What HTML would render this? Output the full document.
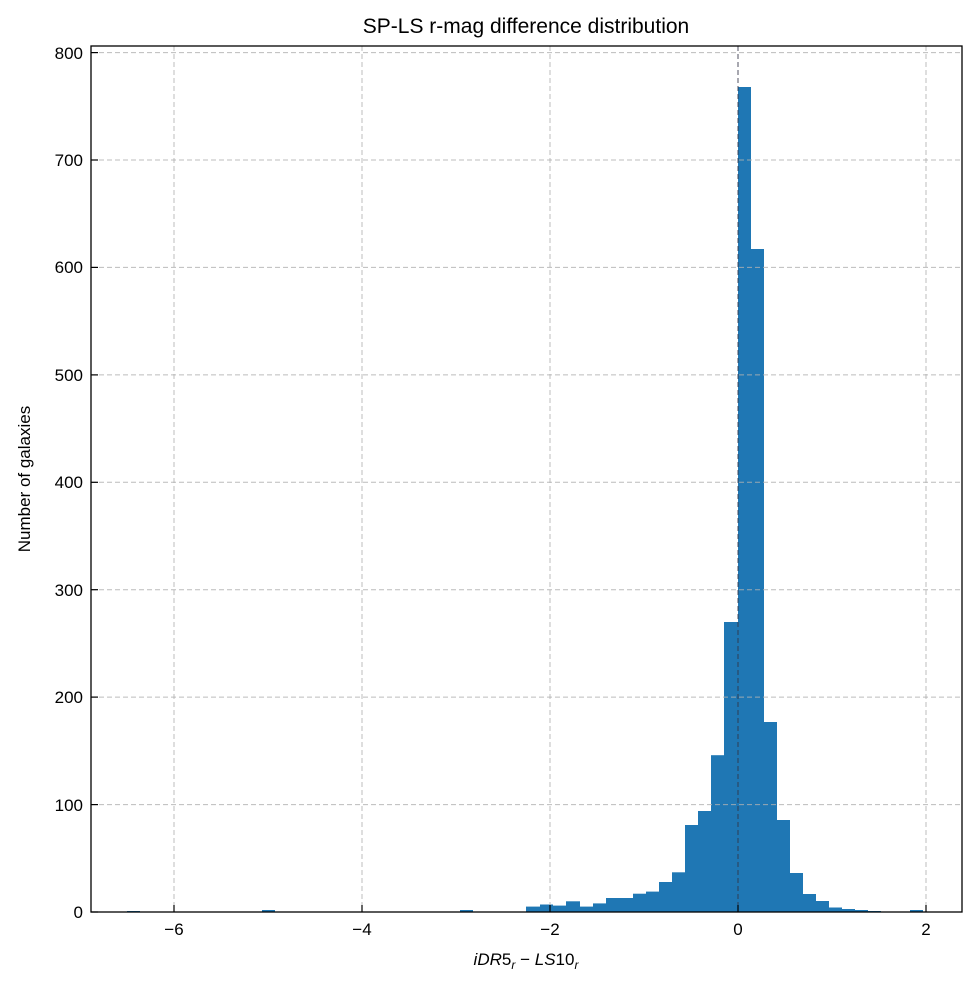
<!DOCTYPE html>
<html><head><style>body{margin:0;background:#fff}svg{display:block}text{font-family:"Liberation Sans","DejaVu Sans",sans-serif;fill:#000}</style></head>
<body>
<svg width="977" height="986" viewBox="0 0 977 986">
<text x="526" y="33" font-size="21" text-anchor="middle">SP-LS r-mag difference distribution</text>
<g fill="#1f77b4">
<rect x="127" y="911" width="13" height="1"/>
<rect x="262" y="910" width="13" height="2"/>
<rect x="460" y="910" width="13" height="2"/>
<rect x="526" y="906.6" width="14" height="5.4"/>
<rect x="540" y="904.5" width="13" height="7.5"/>
<rect x="553" y="905.6" width="13" height="6.4"/>
<rect x="566" y="901.3" width="14" height="10.7"/>
<rect x="580" y="906.6" width="13" height="5.4"/>
<rect x="593" y="903.4" width="13" height="8.6"/>
<rect x="606" y="898" width="14" height="14"/>
<rect x="620" y="898" width="13" height="14"/>
<rect x="633" y="893.7" width="13" height="18.3"/>
<rect x="646" y="891.6" width="13" height="20.4"/>
<rect x="659" y="882" width="13" height="30"/>
<rect x="672" y="872.3" width="13" height="39.7"/>
<rect x="685" y="825" width="13" height="87"/>
<rect x="698" y="811" width="13" height="101"/>
<rect x="711" y="755.2" width="13" height="156.8"/>
<rect x="724" y="622" width="14" height="290"/>
<rect x="738" y="87" width="13" height="825"/>
<rect x="751" y="249" width="13" height="663"/>
<rect x="764" y="722" width="13" height="190"/>
<rect x="777" y="820" width="13" height="92"/>
<rect x="790" y="873" width="13" height="39"/>
<rect x="803" y="894" width="13" height="18"/>
<rect x="816" y="901" width="13" height="11"/>
<rect x="829" y="907.5" width="13" height="4.5"/>
<rect x="842" y="909" width="13" height="3"/>
<rect x="855" y="910" width="13" height="2"/>
<rect x="868" y="911" width="13" height="1"/>
<rect x="910" y="910" width="13" height="2"/>
</g>
<g stroke="#b0b0b0" stroke-opacity="0.85" stroke-dasharray="5,3" stroke-width="1">
<line x1="174" y1="46" x2="174" y2="912"/><line x1="362" y1="46" x2="362" y2="912"/><line x1="550" y1="46" x2="550" y2="912"/><line x1="738" y1="46" x2="738" y2="912" stroke="#334"/><line x1="926" y1="46" x2="926" y2="912"/>
<line x1="91" y1="804.6" x2="962" y2="804.6"/><line x1="91" y1="697.1" x2="962" y2="697.1"/><line x1="91" y1="589.7" x2="962" y2="589.7"/><line x1="91" y1="482.3" x2="962" y2="482.3"/><line x1="91" y1="374.9" x2="962" y2="374.9"/><line x1="91" y1="267.4" x2="962" y2="267.4"/><line x1="91" y1="160" x2="962" y2="160"/><line x1="91" y1="52.6" x2="962" y2="52.6"/>
</g>
<rect x="91" y="46" width="871" height="866" fill="none" stroke="#000" stroke-width="1.3"/>
<g stroke="#000" stroke-width="1.2">
<line x1="174" y1="912" x2="174" y2="905"/><line x1="362" y1="912" x2="362" y2="905"/><line x1="550" y1="912" x2="550" y2="905"/><line x1="738" y1="912" x2="738" y2="905"/><line x1="926" y1="912" x2="926" y2="905"/>
<line x1="91" y1="912" x2="98" y2="912"/><line x1="91" y1="804.6" x2="98" y2="804.6"/><line x1="91" y1="697.1" x2="98" y2="697.1"/><line x1="91" y1="589.7" x2="98" y2="589.7"/><line x1="91" y1="482.3" x2="98" y2="482.3"/><line x1="91" y1="374.9" x2="98" y2="374.9"/><line x1="91" y1="267.4" x2="98" y2="267.4"/><line x1="91" y1="160" x2="98" y2="160"/><line x1="91" y1="52.6" x2="98" y2="52.6"/>
</g>
<g font-size="17" text-anchor="middle">
<text x="174" y="935">−6</text><text x="362" y="935">−4</text><text x="550" y="935">−2</text><text x="738" y="935">0</text><text x="926" y="935">2</text>
</g>
<g font-size="17" text-anchor="end">
<text x="83" y="918">0</text><text x="83" y="811">100</text><text x="83" y="703">200</text><text x="83" y="596">300</text><text x="83" y="488">400</text><text x="83" y="381">500</text><text x="83" y="273">600</text><text x="83" y="166">700</text><text x="83" y="59">800</text>
</g>
<text x="526" y="965" font-size="17" text-anchor="middle"><tspan font-style="italic">iDR</tspan>5<tspan font-style="italic" font-size="12" dy="4">r</tspan><tspan dy="-4"> − </tspan><tspan font-style="italic">LS</tspan>10<tspan font-style="italic" font-size="12" dy="4">r</tspan></text>
<text transform="translate(30,479) rotate(-90)" font-size="17" text-anchor="middle">Number of galaxies</text>
</svg>
</body></html>
